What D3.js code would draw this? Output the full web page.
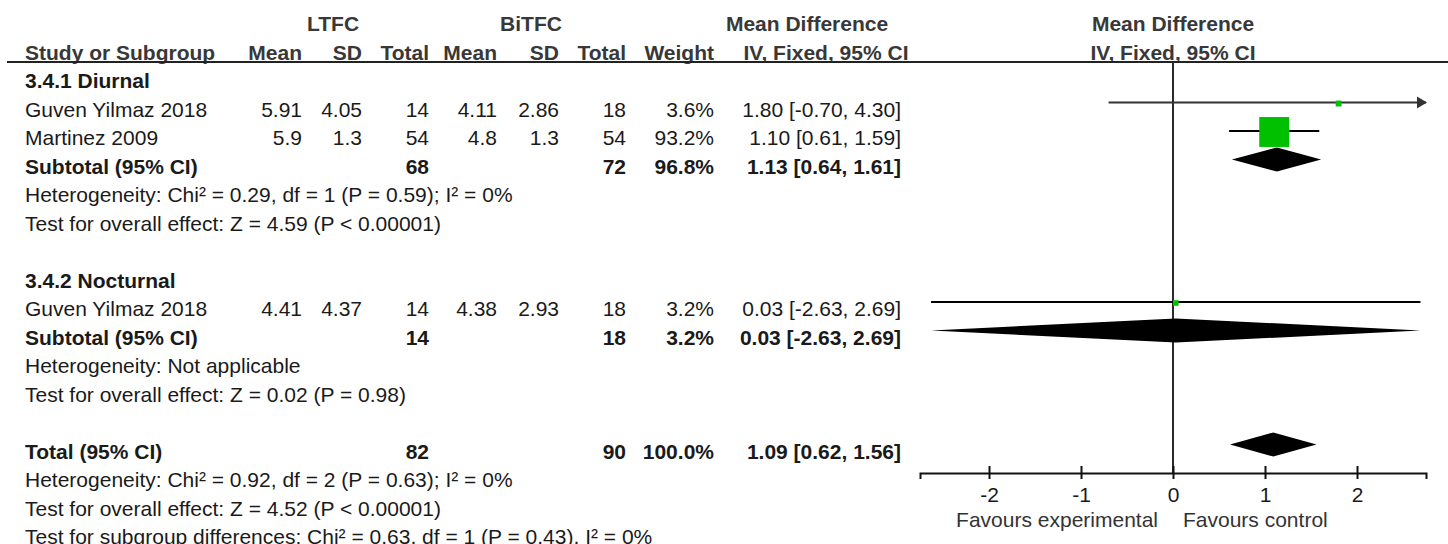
<!DOCTYPE html>
<html>
<head>
<meta charset="utf-8">
<script src="https://cdn.jsdelivr.net/npm/d3@7"></script>
<style>
  body { margin: 0; background: #fff; }
  svg text { font-family: "Liberation Sans", Arial, sans-serif; font-size: 21px; fill: #1a1a1a; }
  svg text.hd { fill: #383838; font-weight: bold; }
  svg text.b { font-weight: bold; }
</style>
</head>
<body>
<svg id="chart" width="1448" height="544"></svg>
<script>
// ----------------- DATA ----------------- //
const groupTitles = ["3.4.1 Diurnal", "3.4.2 Nocturnal"];
const studyNames = ["Guven Yilmaz 2018", "Martinez 2009", "Guven Yilmaz 2018"];
const studyGroup = [0, 0, 1];
const expMean = [5.91, 5.9, 4.41];
const expSD = [4.05, 1.3, 4.37];
const expTotal = [14, 54, 14];
const ctlMean = [4.11, 4.8, 4.38];
const ctlSD = [2.86, 1.3, 2.93];
const ctlTotal = [18, 54, 18];
const studyWeight = [3.6, 93.2, 3.2];
const studyMD = [1.80, 1.10, 0.03];
const studyLo = [-0.70, 0.61, -2.63];
const studyHi = [4.30, 1.59, 2.69];

const subExpTotal = [68, 14];
const subCtlTotal = [72, 18];
const subWeight = [96.8, 3.2];
const subMD = [1.13, 0.03];
const subLo = [0.64, -2.63];
const subHi = [1.61, 2.69];
const subHet = ["Heterogeneity: Chi\u00b2 = 0.29, df = 1 (P = 0.59); I\u00b2 = 0%", "Heterogeneity: Not applicable"];
const subEffect = ["Test for overall effect: Z = 4.59 (P < 0.00001)", "Test for overall effect: Z = 0.02 (P = 0.98)"];

const totalExp = 82, totalCtl = 90, totalWeight = 100.0;
const totalMD = 1.09, totalLo = 0.62, totalHi = 1.56;
const totalNotes = [
  "Heterogeneity: Chi\u00b2 = 0.92, df = 2 (P = 0.63); I\u00b2 = 0%",
  "Test for overall effect: Z = 4.52 (P < 0.00001)",
  "Test for subgroup differences: Chi\u00b2 = 0.63, df = 1 (P = 0.43), I\u00b2 = 0%"
];

const axisTicks = [-2, -1, 0, 1, 2];
const axisLabels = ["Favours experimental", "Favours control"];

// ----------------- LAYOUT ----------------- //
const svg = d3.select("#chart");
const rowY = d3.scaleLinear().domain([0, 1]).range([81, 109.5]);
const x = d3.scaleLinear().domain([-2.75, 2.75]).range([920, 1426]);
const boxSize = d3.scaleSqrt().domain([0, 100]).range([0, 31]);
// plain hyphen for negatives, like the original
const loc = d3.formatLocale({ decimal: ".", thousands: ",", grouping: [3], currency: ["", ""], minus: "-" });
const f2 = loc.format(".2f"), f1 = loc.format(".1f"), fd = loc.format("d");
const ciText = (m, l, h) => f2(m) + " [" + f2(l) + ", " + f2(h) + "]";

// column right edges
const col = { em: 302, es: 362, et: 429, cm: 497, cs: 559, ct: 626, w: 714, ci: 901 };

// build the list of rows
const rows = [];
let i = 0;
groupTitles.forEach((title, g) => {
  rows.push({ i: i++, type: "title", label: title });
  studyNames.forEach((name, s) => {
    if (studyGroup[s] !== g) return;
    rows.push({ i: i++, type: "study", label: name, s: s });
  });
  rows.push({ i: i++, type: "sub", label: "Subtotal (95% CI)", g: g });
  rows.push({ i: i++, type: "note", label: subHet[g] });
  rows.push({ i: i++, type: "note", label: subEffect[g] });
  i++;
});
rows.push({ i: i++, type: "total", label: "Total (95% CI)" });
const axisRow = i;
totalNotes.forEach(t => rows.push({ i: i++, type: "note", label: t }));

// ----------------- HEADER ----------------- //
const hdr = svg.append("g");
function htext(xp, y, t, anchor) {
  hdr.append("text").attr("class", "hd").attr("x", xp).attr("y", y)
    .attr("text-anchor", anchor).text(t);
}
const h1 = rowY(-2) + 7, h2 = rowY(-1) + 7;
htext(333, h1, "LTFC", "middle");
htext(531, h1, "BiTFC", "middle");
htext(807, h1, "Mean Difference", "middle");
htext(x(0), h1, "Mean Difference", "middle");
htext(25, h2, "Study or Subgroup", "start");
htext(col.em, h2, "Mean", "end");
htext(col.es, h2, "SD", "end");
htext(col.et, h2, "Total", "end");
htext(col.cm, h2, "Mean", "end");
htext(col.cs, h2, "SD", "end");
htext(col.ct, h2, "Total", "end");
htext(col.w, h2, "Weight", "end");
htext(826, h2, "IV, Fixed, 95% CI", "middle");
htext(x(0), h2, "IV, Fixed, 95% CI", "middle");

svg.append("line").attr("x1", 7).attr("x2", 1448).attr("y1", 62).attr("y2", 62)
  .attr("stroke", "#222").attr("stroke-width", 2);

// ----------------- TABLE ----------------- //
const tbl = svg.append("g");
function cell(r, xp, t, anchor, bold) {
  tbl.append("text").attr("class", bold ? "b" : null)
    .attr("x", xp).attr("y", rowY(r.i) + 7)
    .attr("text-anchor", anchor).text(t);
}
rows.forEach(r => {
  if (r.type === "title") cell(r, 25, r.label, "start", true);
  if (r.type === "note") cell(r, 25, r.label, "start", false);
  if (r.type === "study") {
    const s = r.s;
    cell(r, 25, r.label, "start", false);
    cell(r, col.em, String(expMean[s]), "end");
    cell(r, col.es, String(expSD[s]), "end");
    cell(r, col.et, expTotal[s], "end");
    cell(r, col.cm, String(ctlMean[s]), "end");
    cell(r, col.cs, String(ctlSD[s]), "end");
    cell(r, col.ct, ctlTotal[s], "end");
    cell(r, col.w, f1(studyWeight[s]) + "%", "end");
    cell(r, col.ci, ciText(studyMD[s], studyLo[s], studyHi[s]), "end");
  }
  if (r.type === "sub") {
    const g = r.g;
    cell(r, 25, r.label, "start", true);
    cell(r, col.et, subExpTotal[g], "end", true);
    cell(r, col.ct, subCtlTotal[g], "end", true);
    cell(r, col.w, f1(subWeight[g]) + "%", "end", true);
    cell(r, col.ci, ciText(subMD[g], subLo[g], subHi[g]), "end", true);
  }
  if (r.type === "total") {
    cell(r, 25, r.label, "start", true);
    cell(r, col.et, totalExp, "end", true);
    cell(r, col.ct, totalCtl, "end", true);
    cell(r, col.w, f1(totalWeight) + "%", "end", true);
    cell(r, col.ci, ciText(totalMD, totalLo, totalHi), "end", true);
  }
});

// ----------------- FOREST PLOT ----------------- //
const plot = svg.append("g");
const py = r => rowY(r) - 7;
const axisY = py(axisRow);

plot.append("line").attr("x1", x(0)).attr("x2", x(0)).attr("y1", 62).attr("y2", axisY)
  .attr("stroke", "#2a2a2a").attr("stroke-width", 2);

function diamond(r, m, l, h) {
  const y = py(r.i);
  plot.append("path")
    .attr("d", "M" + x(l) + "," + y + "L" + x(m) + "," + (y - 12) + "L" + x(h) + "," + y +
      "L" + x(m) + "," + (y + 12) + "Z")
    .attr("fill", "#000");
}

rows.forEach(r => {
  if (r.type === "study") {
    const s = r.s, y = py(r.i);
    const [d0, d1] = x.domain();
    const lo = Math.max(studyLo[s], d0), hi = Math.min(studyHi[s], d1);
    plot.append("line").attr("x1", x(lo)).attr("x2", x(hi)).attr("y1", y).attr("y2", y)
      .attr("stroke", studyHi[s] > d1 ? "#333" : "#000").attr("stroke-width", 2);
    if (studyHi[s] > d1) {
      plot.append("path")
        .attr("d", "M" + (x(d1) - 9) + "," + (y - 6) + "L" + (x(d1) + 1) + "," + y +
          "L" + (x(d1) - 9) + "," + (y + 6) + "Z")
        .attr("fill", "#333");
    }
    const b = boxSize(studyWeight[s]);
    plot.append("rect").attr("x", x(studyMD[s]) - b / 2).attr("y", y - b / 2 + 1)
      .attr("width", b).attr("height", b).attr("fill", "#00c000");
  }
  if (r.type === "sub") diamond(r, subMD[r.g], subLo[r.g], subHi[r.g]);
  if (r.type === "total") diamond(r, totalMD, totalLo, totalHi);
});

// axis
const axis = d3.axisBottom(x).tickValues(axisTicks).tickFormat(fd)
  .tickSizeOuter(0).tickSize(6).tickPadding(10);
const ax = plot.append("g").attr("transform", "translate(0," + axisY + ")").call(axis);
ax.select(".domain").attr("stroke", "#111").attr("stroke-width", 2);
ax.selectAll(".tick line").attr("y1", -7).attr("y2", 6).attr("stroke", "#111").attr("stroke-width", 2);
ax.selectAll(".tick text").attr("font-size", null).attr("font-family", null)
  .attr("y", 29).attr("dy", null).style("fill", "#1a1a1a");

plot.append("text").attr("x", x(0) - 15).attr("y", axisY + 54).attr("text-anchor", "end")
  .style("fill", "#333").text(axisLabels[0]);
plot.append("text").attr("x", x(0) + 10).attr("y", axisY + 54).attr("text-anchor", "start")
  .style("fill", "#333").text(axisLabels[1]);
</script>
</body>
</html>
